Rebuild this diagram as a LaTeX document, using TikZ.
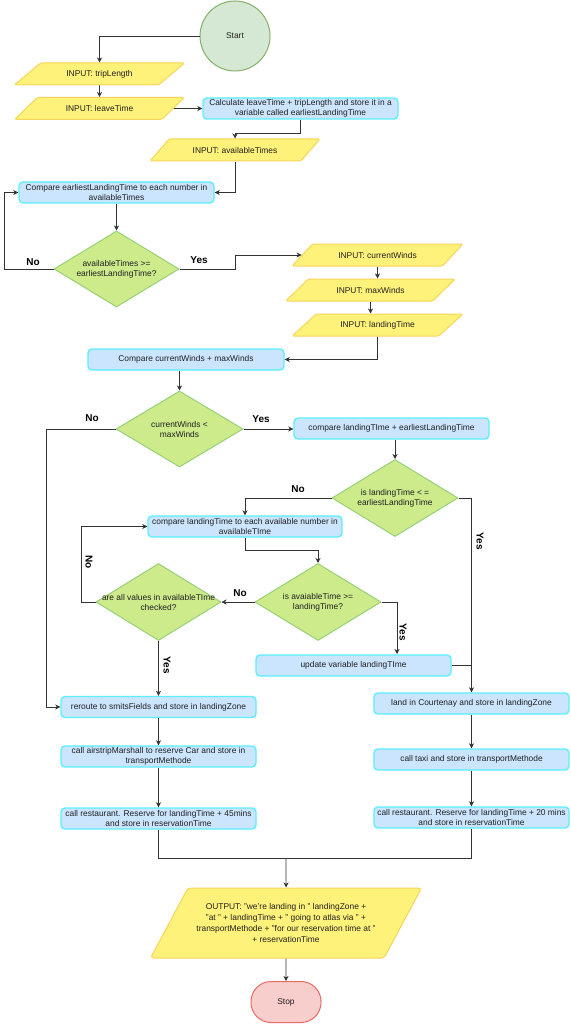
\documentclass[tikz,border=0pt]{standalone}
\usepackage{fontspec}
\setmainfont{Liberation Sans}
\usetikzlibrary{shapes.geometric,arrows.meta,calc}
\definecolor{boxfill}{HTML}{CCE5FF}
\definecolor{boxline}{HTML}{5CEFFF}
\definecolor{iofill}{HTML}{FFF27A}
\definecolor{ioline}{HTML}{F5D55A}
\definecolor{decfill}{HTML}{CDEB8B}
\definecolor{decline}{HTML}{97D077}
\definecolor{startfill}{HTML}{D5E8D4}
\definecolor{startline}{HTML}{82B366}
\definecolor{stopfill}{HTML}{F8CECC}
\definecolor{stopline}{HTML}{EA6B66}
\definecolor{connc}{HTML}{333333}
\newcommand\zw[1]{\makebox[0pt]{#1}}
\begin{document}
\begin{tikzpicture}[x=1pt,y=-1pt,
  every node/.style={font=\fontsize{8.4}{10}\selectfont, text=black!88, inner sep=1pt, align=center},
  proc/.style={draw=boxline, fill=boxfill, line width=1.4pt, rounded corners=4pt, minimum width=195pt, minimum height=21pt},
  io/.style={trapezium, trapezium left angle=33, trapezium right angle=147, trapezium stretches=true, draw=ioline, fill=iofill, line width=1pt, minimum width=171pt, minimum height=22pt, rounded corners=1.5pt},
  dec/.style={diamond, draw=decline, fill=decfill, line width=1pt, minimum width=126pt, minimum height=77pt, inner sep=0pt},
  conn/.style={draw=connc, line width=0.9pt},
  arr/.style={conn, -{Stealth[length=5pt,width=5pt,inset=1.5pt]}},
  lbl/.style={font=\fontsize{10}{12}\selectfont\bfseries, inner sep=0pt, text=black}
]
\fill[white] (0,0) rectangle (570,1024);
\useasboundingbox (0,0) rectangle (570,1024);

% start
\node[circle, draw=startline, fill=startfill, line width=1pt, minimum size=70pt, inner sep=0pt] (start) at (235,36) {Start};

% inputs
\node[io] (trip) at (99.5,74) {INPUT: tripLength};
\node[io] (leave) at (99.5,108.5) {INPUT: leaveTime};
\node[proc] (calc) at (300.5,108.5) {Calculate leaveTime + tripLength and store it in a\\variable called earliestLandingTime};
\node[io, minimum width=170pt] (avail) at (235,150) {INPUT: availableTimes};
\node[proc] (cmp1) at (116.5,192.5) {Compare earliestLandingTime to each number in\\availableTimes};
\node[dec, minimum width=125pt, minimum height=76pt] (d1) at (116.5,269) {\zw{availableTimes >=}\\\zw{earliestLandingTime?}};

\node[io] (cw) at (377.5,255) {INPUT: currentWinds};
\node[io] (mw) at (370.5,290) {INPUT: maxWinds};
\node[io] (lt) at (377.5,325) {INPUT: landingTime};
\node[proc, minimum width=196pt] (cmp2) at (186,359.5) {Compare currentWinds + maxWinds};
\node[dec, minimum width=127pt, minimum height=76pt] (d2) at (179.5,429) {\zw{currentWinds <}\\\zw{maxWinds}};

\node[proc] (cmp3) at (391.5,428.5) {compare landingTIme + earliestLandingTime};
\node[dec] (d3) at (395,498) {\zw{is landingTime < =}\\\zw{earliestLandingTime}};
\node[proc, minimum width=194pt] (cmp4) at (245,526.5) {compare landingTime to each available number in\\availableTIme};
\node[dec] (d4) at (318,602) {\zw{is avaiableTime >=}\\\zw{landingTime?}};
\node[dec, minimum width=125pt] (d5) at (158.5,602) {\zw{are all values in availableTIme}\\\zw{checked?}};
\node[proc] (upd) at (353.5,665.5) {update variable landingTIme};

\node[proc] (reroute) at (158.5,707) {reroute to smitsFields and store in landingZone};
\node[proc] (air) at (158.5,756.5) {call airstripMarshall to reserve Car and store in\\transportMethode};
\node[proc] (rest45) at (158.5,818.5) {call restaurant. Reserve for landingTime + 45mins\\and store in reservationTime};

\node[proc] (court) at (471.5,703.5) {land in Courtenay and store in landingZone};
\node[proc] (taxi) at (471.5,759.5) {call taxi and store in transportMethode};
\node[proc] (rest20) at (471.5,817.5) {call restaurant. Reserve for landingTime + 20 mins\\and store in reservationTime};

\node[io, minimum width=272pt, minimum height=70pt, trapezium left angle=50, trapezium right angle=130, rounded corners=3pt, font=\fontsize{8.4}{11}\selectfont] (out) at (286,923) {OUTPUT: "we're landing in " landingZone +\\"at " + landingTime + " going to atlas via " +\\transportMethode + "for our reservation time at "\\+ reservationTime};
\node[draw=stopline, fill=stopfill, line width=1pt, rounded corners=20pt, minimum width=70pt, minimum height=41pt] (stop) at (286,1002) {Stop};

% connectors
\draw[arr] (start.west) -| (trip.north);
\draw[arr] (trip.south) -- (leave.north);
\draw[arr] (leave.east) -- (calc.west);
\draw[arr] (calc.south) -- ++(0,14) -| (avail.north);
\draw[arr] (avail.south) |- (cmp1.east);
\draw[arr] (cmp1.south) -- (d1.north);
\draw[arr] (d1.west) -- ++(-49,0) |- (cmp1.west);
\draw[arr] (d1.east) -- ++(56,0) |- (cw.west);
\draw[arr] (cw.south) -- (cw.south |- mw.north);
\draw[arr] (mw.south) -- (mw.south |- lt.north);
\draw[arr] (lt.south) |- (cmp2.east);
\draw[arr] (cmp2.south -| d2.north) -- (d2.north);
\draw[arr] (d2.east) -- (d2.east -| cmp3.west);
\draw[arr] (d2.west) -- ++(-69,0) |- (reroute.west);
\draw[arr] (d3.north |- cmp3.south) -- (d3.north);
\draw[arr] (d3.west) -| (cmp4.north);
\draw[arr] (d3.east) -| (court.north);
\draw[arr] (cmp4.south) -- ++(0,13) -| (d4.north);
\coordinate (u1) at (397,654);
\draw[arr] (d4.east) -| (u1);
\draw[arr] (d4.west) -- (d5.east);
\draw[arr] (d5.west) -- ++(-14,0) |- (cmp4.west);
\draw[arr] (d5.south) -- (reroute.north);
\draw[conn] (upd.east) -- (upd.east -| court.north);
\draw[arr] (reroute.south) -- (air.north);
\draw[arr] (air.south) -- (rest45.north);
\draw[arr] (court.south) -- (taxi.north);
\draw[arr] (taxi.south) -- (rest20.north);
\coordinate (m) at (286,858);
\draw[conn] (rest45.south) |- (m);
\draw[conn] (rest20.south) |- (m);
\draw[arr] (m) -- (out.north);
\draw[arr] (out.south) -- (stop.north);

% labels
\node[lbl] (no1) at (33,262) {No};
\node[lbl] (yes1) at (199,260) {Yes};
\node[lbl] (no2) at (92,418) {No};
\node[lbl] (yes2) at (261,419) {Yes};
\node[lbl] (no3) at (298,489) {No};
\node[lbl, rotate=-90] (yes3) at (480,541) {Yes};
\node[lbl, rotate=-90] (yes4) at (403,632) {Yes};
\node[lbl] (no4) at (240,593) {No};
\node[lbl, rotate=-90] (no5) at (89,562) {No};
\node[lbl, rotate=-90] (yes5) at (167,665) {Yes};
\end{tikzpicture}
\end{document}
